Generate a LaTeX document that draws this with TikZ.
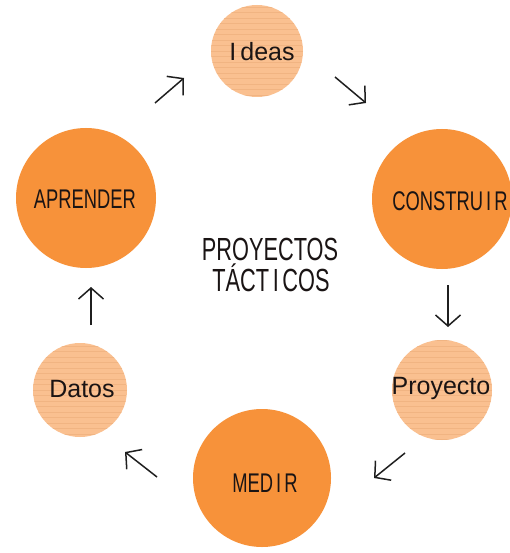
\documentclass[tikz,border=0pt]{standalone}
\usepackage{fontspec}
\setmainfont{Liberation Sans}
\usetikzlibrary{arrows.meta}
\definecolor{bigorange}{HTML}{F7923A}
\definecolor{lightorange}{HTML}{FAC090}
\definecolor{stripecol}{HTML}{F1B482}
\definecolor{textcol}{HTML}{1A1414}
\newcommand{\cond}[1]{\scalebox{0.68}[1]{#1}}
\tikzset{
  bigcirc/.style={circle, fill=bigorange, draw=none, minimum size=#1, inner sep=0pt},
  smallcirc/.style={circle, fill=lightorange, draw=none, minimum size=#1, inner sep=0pt,
    path picture={\foreach \k in {-10,...,10}
      \draw[stripecol, line width=0.5pt]
        ([yshift=\k*5.5pt]path picture bounding box.west) --
        ([yshift=\k*5.5pt]path picture bounding box.east);}},
  lbl/.style={text=textcol, inner sep=0pt},
  cyc/.style={line width=1.5pt, draw=black!88, -{Straight Barb[length=11pt,width=25pt,line width=1.5pt]}},
}
\begin{document}
\begin{tikzpicture}[x=1pt,y=-1pt]
\useasboundingbox (0,0) rectangle (509,553);
\fill[white] (0,0) rectangle (509,553);
% circles
\node[smallcirc=92pt] (ideas) at (257,51) {};
\node[bigcirc=140pt] (aprender) at (86,198) {};
\node[bigcirc=140pt] (construir) at (442,199) {};
\node[smallcirc=94pt] (datos) at (80,390) {};
\node[smallcirc=100pt] (proyecto) at (442,390) {};
\node[bigcirc=138pt] (medir) at (262,478) {};
% labels
\node[lbl, font=\fontsize{25}{28}\selectfont] (tideas) at (262,52) {I\,deas};
\node[lbl, font=\fontsize{27}{28}\selectfont] (taprender) at (85,199) {\cond{APRENDER}};
\node[lbl, font=\fontsize{27}{28}\selectfont] (tconstruir) at (450,201) {\cond{CONSTRU\,I\,R}};
\node[lbl, font=\fontsize{25}{28}\selectfont] (tdatos) at (82,389) {Datos};
\node[lbl, font=\fontsize{25}{28}\selectfont] (tproyecto) at (441,388) {Proyecto};
\node[lbl, font=\fontsize{27}{28}\selectfont] (tmedir) at (265,483) {\cond{MED\,I\,R}};
\node[lbl, font=\fontsize{32}{32}\selectfont] (title1) at (270,249) {\cond{PROYECTOS}};
\node[lbl, font=\fontsize{32}{32}\selectfont] (title2) at (271,278) {\cond{TÁCT\,I\,COS}};
% arrow end points
\coordinate (a1s) at (155,103); \coordinate (a1e) at (184,78);
\coordinate (a2s) at (335,77);  \coordinate (a2e) at (366,103);
\coordinate (a3s) at (448,285); \coordinate (a3e) at (448,327);
\coordinate (a4s) at (405,453); \coordinate (a4e) at (374,478);
\coordinate (a5s) at (157,477); \coordinate (a5e) at (125,452);
\coordinate (a6s) at (91,325);  \coordinate (a6e) at (91,287);
\draw[cyc] (a1s) -- (a1e);
\draw[cyc] (a2s) -- (a2e);
\draw[cyc] (a3s) -- (a3e);
\draw[cyc] (a4s) -- (a4e);
\draw[cyc] (a5s) -- (a5e);
\draw[cyc] (a6s) -- (a6e);
\end{tikzpicture}
\end{document}
